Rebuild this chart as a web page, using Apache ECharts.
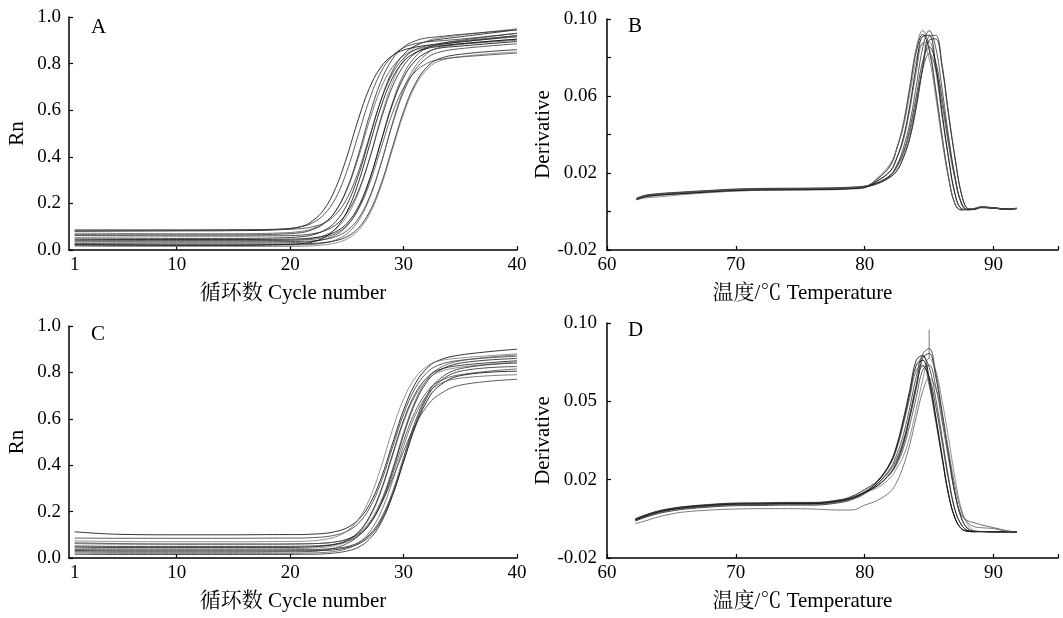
<!DOCTYPE html>
<html>
<head>
<meta charset="utf-8">
<script src="https://cdn.jsdelivr.net/npm/echarts@6/dist/echarts.min.js"></script>
<style>
html,body{margin:0;padding:0;background:#fff;}
#chart{width:1063px;height:618px;}
</style>
</head>
<body>
<div id="chart"></div>
<script>
// ---------------- DATA ----------------
const panelLetters = ['A', 'B', 'C', 'D'];
const xNameCycle = '循环数 Cycle number';
const xNameTemp = '温度/℃ Temperature';
const yNameRn = 'Rn';
const yNameDeriv = 'Derivative';

const cycleLabelTicks = [1, 10, 20, 30, 40];
const cycleTickMarks = [10, 20, 30, 40];
const tempTicks = [60, 70, 80, 90, 95];
const tempLabelTicks = [60, 70, 80, 90];
const derivBTicks = [-0.02, 0, 0.02, 0.04, 0.06, 0.08, 0.10];
const derivBLabelTicks = [-0.02, 0.02, 0.06, 0.10];
const derivDLabelTicks = [-0.02, 0.02, 0.06, 0.10];
const derivDLabels = ['-0.02', '0.02', '0.05', '0.10'];

// amplification curves (panel A), sampled at these cycles
const cycles = [1, 5, 10, 15, 19, 21, 22, 23, 24, 25, 26, 27, 28, 29, 30, 31, 32, 33, 35, 40];
const rnA = [
  [0.080,0.081,0.082,0.083,0.087,0.101,0.126,0.175,0.265,0.400,0.560,0.696,0.785,0.834,0.858,0.870,0.878,0.882,0.893,0.920],
  [0.086,0.085,0.085,0.086,0.090,0.100,0.117,0.153,0.222,0.338,0.493,0.647,0.763,0.832,0.868,0.885,0.893,0.897,0.905,0.930],
  [0.072,0.071,0.070,0.070,0.073,0.080,0.092,0.116,0.166,0.257,0.394,0.556,0.694,0.784,0.834,0.858,0.870,0.876,0.885,0.905],
  [0.052,0.051,0.050,0.050,0.052,0.057,0.065,0.084,0.121,0.194,0.317,0.480,0.643,0.766,0.839,0.876,0.894,0.903,0.915,0.945],
  [0.038,0.039,0.040,0.040,0.041,0.044,0.051,0.063,0.090,0.145,0.243,0.392,0.568,0.718,0.815,0.870,0.896,0.909,0.922,0.950],
  [0.062,0.061,0.060,0.060,0.061,0.064,0.070,0.082,0.107,0.159,0.252,0.392,0.558,0.699,0.791,0.843,0.868,0.880,0.893,0.915],
  [0.028,0.029,0.030,0.030,0.031,0.033,0.037,0.046,0.064,0.102,0.176,0.300,0.465,0.630,0.754,0.828,0.866,0.884,0.897,0.920],
  [0.046,0.045,0.045,0.045,0.046,0.048,0.052,0.060,0.078,0.114,0.185,0.304,0.463,0.621,0.740,0.811,0.847,0.865,0.875,0.895],
  [0.034,0.035,0.035,0.035,0.036,0.037,0.039,0.045,0.057,0.083,0.134,0.228,0.369,0.536,0.678,0.771,0.822,0.847,0.864,0.885],
  [0.021,0.020,0.020,0.020,0.021,0.022,0.024,0.030,0.043,0.070,0.124,0.221,0.368,0.542,0.690,0.786,0.840,0.867,0.882,0.900],
  [0.024,0.025,0.025,0.025,0.025,0.026,0.028,0.032,0.040,0.057,0.093,0.164,0.281,0.438,0.594,0.711,0.782,0.818,0.840,0.860],
  [0.016,0.015,0.015,0.015,0.015,0.016,0.018,0.022,0.030,0.047,0.083,0.154,0.271,0.428,0.584,0.701,0.772,0.808,0.830,0.850],
  [0.066,0.065,0.065,0.065,0.068,0.075,0.088,0.114,0.167,0.263,0.407,0.578,0.723,0.818,0.871,0.897,0.910,0.915,0.925,0.945],
  [0.041,0.040,0.040,0.040,0.041,0.043,0.046,0.054,0.071,0.106,0.173,0.285,0.435,0.585,0.697,0.764,0.799,0.816,0.828,0.845],
  [0.022,0.021,0.020,0.020,0.023,0.027,0.035,0.054,0.091,0.164,0.287,0.450,0.613,0.736,0.809,0.846,0.864,0.873,0.885,0.905],
  [0.085,0.086,0.086,0.087,0.088,0.092,0.100,0.116,0.152,0.220,0.335,0.488,0.641,0.755,0.823,0.859,0.876,0.885,0.900,0.930]
];

// amplification curves (panel C)
const rnC = [
  [0.113,0.102,0.100,0.100,0.101,0.101,0.103,0.106,0.114,0.130,0.165,0.231,0.342,0.490,0.638,0.749,0.815,0.850,0.875,0.900],
  [0.086,0.085,0.085,0.085,0.086,0.086,0.088,0.091,0.099,0.115,0.149,0.215,0.325,0.473,0.620,0.730,0.796,0.830,0.852,0.870],
  [0.062,0.060,0.060,0.060,0.060,0.061,0.062,0.064,0.070,0.081,0.106,0.155,0.245,0.380,0.540,0.675,0.765,0.814,0.850,0.875],
  [0.052,0.050,0.050,0.050,0.050,0.051,0.052,0.054,0.060,0.071,0.096,0.145,0.235,0.370,0.530,0.665,0.755,0.804,0.840,0.860],
  [0.042,0.040,0.040,0.040,0.040,0.041,0.043,0.046,0.054,0.071,0.106,0.173,0.285,0.435,0.585,0.697,0.764,0.799,0.822,0.845],
  [0.036,0.035,0.035,0.035,0.035,0.036,0.036,0.038,0.042,0.049,0.066,0.101,0.169,0.281,0.433,0.584,0.696,0.764,0.816,0.840],
  [0.066,0.062,0.060,0.060,0.060,0.061,0.062,0.064,0.069,0.080,0.102,0.148,0.231,0.356,0.504,0.629,0.712,0.758,0.790,0.815],
  [0.032,0.030,0.030,0.030,0.030,0.031,0.031,0.033,0.036,0.044,0.060,0.094,0.159,0.269,0.415,0.561,0.671,0.736,0.786,0.805],
  [0.027,0.025,0.025,0.025,0.026,0.027,0.029,0.034,0.044,0.062,0.094,0.145,0.230,0.340,0.460,0.570,0.650,0.700,0.745,0.770],
  [0.022,0.020,0.020,0.020,0.020,0.021,0.022,0.024,0.029,0.040,0.064,0.112,0.198,0.328,0.482,0.612,0.698,0.746,0.775,0.790],
  [0.047,0.045,0.045,0.045,0.045,0.046,0.048,0.052,0.059,0.076,0.111,0.179,0.291,0.443,0.594,0.706,0.774,0.809,0.830,0.850],
  [0.074,0.071,0.070,0.070,0.071,0.072,0.074,0.080,0.091,0.116,0.165,0.255,0.390,0.550,0.685,0.775,0.824,0.848,0.862,0.880],
  [0.016,0.015,0.015,0.015,0.015,0.016,0.016,0.018,0.022,0.030,0.046,0.082,0.150,0.265,0.418,0.570,0.685,0.753,0.805,0.825]
];

// melt curves (panel B)
const tempB = [62.3,63,64,65,66,68,70,72,74,76,78,79,80,81,82,82.5,83,83.5,84,84.5,85,85.5,86,86.5,87,87.5,88,88.5,89,90,91,91.8];
const derivB = [
  [0.0065,0.0080,0.0088,0.0093,0.0097,0.0105,0.0112,0.0115,0.0116,0.0117,0.0119,0.0122,0.0128, 0.017,0.024,0.033,0.045,0.064,0.083,0.092,0.084,0.063,0.039,0.018,0.004,0.0008,0.0012,0.0015, 0.0022,0.0018,0.0012,0.0016],
  [0.0070,0.0085,0.0093,0.0098,0.0102,0.0110,0.0117,0.0120,0.0121,0.0122,0.0124,0.0127,0.0132, 0.015,0.019,0.024,0.033,0.046,0.065,0.085,0.094,0.0855,0.064,0.0395,0.0185,0.004,0.0008,0.0012, 0.0025,0.0020,0.0014,0.0017],
  [0.0060,0.0075,0.0083,0.0088,0.0092,0.0100,0.0107,0.0110,0.0111,0.0112,0.0114,0.0117,0.0123, 0.016,0.021,0.028,0.037,0.053,0.0725,0.0875,0.088,0.0735,0.0495,0.0275,0.009,0.0015,0.0009,0.0013, 0.0020,0.0017,0.0011,0.0015],
  [0.0065,0.0080,0.0088,0.0093,0.0097,0.0105,0.0112,0.0115,0.0116,0.0117,0.0119,0.0122,0.0128, 0.0145,0.018,0.0212,0.028,0.038,0.054,0.074,0.089,0.0897,0.075,0.0505,0.028,0.0093,0.0015,0.001, 0.0021,0.0019,0.0013,0.0016],
  [0.0062,0.0070,0.0076,0.0082,0.0088,0.0098,0.0106,0.0110,0.0112,0.0114,0.0117,0.0120,0.0127, 0.0175,0.025,0.033,0.044,0.061,0.079,0.0875,0.0795,0.060,0.037,0.0175,0.004,0.001,0.0012,0.0016, 0.0023,0.0019,0.0013,0.0016],
  [0.0068,0.0083,0.0091,0.0096,0.0100,0.0108,0.0115,0.0118,0.0119,0.0120,0.0122,0.0125,0.0131, 0.015,0.019,0.024,0.031,0.043,0.060,0.078,0.0855,0.078,0.059,0.037,0.018,0.0045,0.001,0.0012, 0.0020,0.0017,0.0012,0.0015],
  [0.0065,0.0080,0.0088,0.0093,0.0097,0.0105,0.0112,0.0115,0.0116,0.0117,0.0119,0.0122,0.0128, 0.015,0.0185,0.023,0.030,0.041,0.057,0.074,0.082,0.0745,0.056,0.035,0.017,0.0045,0.0012,0.0013, 0.0022,0.0018,0.0012,0.0016],
  [0.0063,0.0077,0.0085,0.0090,0.0094,0.0102,0.0109,0.0112,0.0113,0.0114,0.0116,0.0119,0.0125, 0.016,0.0212,0.028,0.0385,0.055,0.0755,0.091,0.0915,0.0765,0.0515,0.0285,0.0095,0.0015,0.001,0.0013, 0.0021,0.0018,0.0012,0.0015],
  [0.0065,0.0080,0.0088,0.0093,0.0097,0.0105,0.0112,0.0115,0.0116,0.0117,0.0119,0.0122,0.0128, 0.0145,0.018,0.0212,0.028,0.0385,0.055,0.0755,0.091,0.0915,0.0765,0.0515,0.0285,0.0095,0.0015,0.001, 0.0024,0.0019,0.0013,0.0017],
  [0.0067,0.0082,0.0090,0.0095,0.0099,0.0107,0.0114,0.0117,0.0118,0.0119,0.0121,0.0124,0.0130, 0.017,0.024,0.033,0.046,0.065,0.085,0.094,0.0855,0.064,0.0395,0.0185,0.004,0.0008,0.0012,0.0015, 0.0022,0.0018,0.0012,0.0016]
];

// melt curves (panel D)
const tempD = [62.2,63,64,65,66,68,70,72,74,76,78,79,80,81,82,82.5,83,83.5,84,84.5,85,85.5,86,86.5,87,87.5,88,88.5,89,90,91,91.8];
const derivD = [
  [-0.0001,0.0019,0.0039,0.0052,0.0061,0.0072,0.0079,0.0080,0.0082,0.0082,0.0096,0.0115,0.0150, 0.0195,0.029,0.038,0.051,0.066,0.081,0.0835,0.072,0.053,0.0325,0.013,0.0005,-0.005,-0.0063,-0.0065, -0.0065,-0.0066,-0.0066,-0.0067],
  [-0.0005,0.0015,0.0035,0.0048,0.0057,0.0068,0.0075,0.0076,0.0078,0.0078,0.0090,0.0105,0.0135, 0.018,0.026,0.033,0.043,0.057,0.0725,0.083,0.0775,0.062,0.042,0.0215,0.005,-0.003,-0.006,-0.0065, -0.0065,-0.0066,-0.0066,-0.0067],
  [-0.0009,0.0011,0.0031,0.0044,0.0053,0.0064,0.0071,0.0072,0.0074,0.0074,0.0087,0.0104,0.0140, 0.019,0.028,0.036,0.048,0.062,0.076,0.0785,0.068,0.050,0.031,0.0125,0.0005,-0.005,-0.0063,-0.0066, -0.0065,-0.0066,-0.0066,-0.0067],
  [-0.0003,0.0017,0.0037,0.0050,0.0059,0.0070,0.0077,0.0078,0.0080,0.0080,0.0092,0.0106,0.0133, 0.017,0.0235,0.029,0.038,0.0515,0.0665,0.082,0.0845,0.073,0.0535,0.033,0.013,0.0005,-0.005,-0.0063, -0.0065,-0.0066,-0.0067,-0.0067],
  [-0.0007,0.0013,0.0033,0.0046,0.0055,0.0066,0.0073,0.0074,0.0076,0.0076,0.0088,0.0103,0.0132, 0.016,0.021,0.026,0.032,0.042,0.056,0.071,0.082,0.076,0.0605,0.0415,0.021,0.005,-0.003,-0.006, -0.0064,-0.0066,-0.0066,-0.0067],
  [-0.0012,0.0008,0.0027,0.0040,0.0049,0.0060,0.0067,0.0068,0.0070,0.0070,0.0082,0.0098,0.0128, 0.018,0.025,0.031,0.040,0.053,0.068,0.078,0.0725,0.058,0.0395,0.020,0.0045,-0.003,-0.006,-0.0065, -0.0065,-0.0066,-0.0066,-0.0067],
  [0.0001,0.0021,0.0041,0.0054,0.0063,0.0074,0.0081,0.0082,0.0084,0.0084,0.0096,0.0110,0.0138, 0.017,0.023,0.028,0.036,0.048,0.062,0.076,0.0785,0.068,0.050,0.031,0.013,0.002,-0.001,-0.002, -0.003,-0.0045,-0.006,-0.0067],
  [-0.0005,0.0015,0.0035,0.0048,0.0057,0.0068,0.0075,0.0076,0.0078,0.0078,0.0090,0.0105,0.0135, 0.019,0.0285,0.037,0.0495,0.064,0.0785,0.081,0.070,0.0515,0.0315,0.0125,0.0005,-0.005,-0.0064,-0.0066, -0.0065,-0.0066,-0.0066,-0.0067],
  [-0.0002,0.0018,0.0038,0.0051,0.0060,0.0071,0.0078,0.0079,0.0081,0.0081,0.0093,0.0108,0.0137, 0.017,0.0235,0.0295,0.039,0.053,0.0685,0.084,0.087,0.075,0.055,0.034,0.0135,0.0005,-0.005,-0.0063, -0.0065,-0.0066,-0.0066,-0.0067],
  [-0.0025,-0.001,0.001,0.0025,0.0035,0.0045,0.005,0.0052,0.0052,0.005,0.0045,0.0045,0.007, 0.0095,0.014,0.019,0.027,0.038,0.052,0.065,0.072,0.067,0.053,0.035,0.017,0.004,-0.002,-0.004, -0.0045,-0.005,-0.0063,-0.0067]
];
const spikeDTemp = [85.0, 85.0];
const spikeDValue = [0.082, 0.0966];

// ---------------- CHART ----------------
const FONT = "'Liberation Serif', 'Times New Roman', 'Noto Serif CJK SC', 'Noto Sans CJK SC', serif";
const lineColors = ['#000000', '#333333', '#5a5a5a', '#111111', '#777777', '#222222', '#444444'];

const grids = [
  {left: 69, top: 17, width: 448, height: 233},
  {left: 607, top: 19, width: 451, height: 231},
  {left: 69, top: 326, width: 448, height: 232},
  {left: 607, top: 323, width: 451, height: 235}
];

function baseAxisStyle() {
  return {
    axisLine: {show: true, onZero: false, lineStyle: {color: '#000', width: 1.5}},
    splitLine: {show: false}
  };
}
function nameStyle(extra) {
  return Object.assign({color: '#000', fontSize: 21, fontFamily: FONT}, extra || {});
}
function labelStyle(extra) {
  return Object.assign({color: '#000', fontSize: 19, fontFamily: FONT}, extra || {});
}

function cycleXAxis(gi) {
  return Object.assign(baseAxisStyle(), {
    gridIndex: gi, type: 'value', min: 0.5, max: 40,
    axisTick: {show: true, inside: true, length: 4, customValues: cycleTickMarks, lineStyle: {color: '#000', width: 1.2}},
    axisLabel: labelStyle({customValues: cycleLabelTicks, margin: 6}),
    name: xNameCycle, nameLocation: 'middle', nameGap: 33, nameTextStyle: nameStyle()
  });
}
function tempXAxis(gi) {
  return Object.assign(baseAxisStyle(), {
    gridIndex: gi, type: 'value', min: 60, max: 95,
    axisTick: {show: true, inside: true, length: 4, customValues: tempTicks, lineStyle: {color: '#000', width: 1.2}},
    axisLabel: labelStyle({customValues: tempLabelTicks, margin: 6}),
    name: xNameTemp, nameLocation: 'middle', nameGap: 33,
    nameTextStyle: nameStyle({padding: [0, 60, 0, 0]})
  });
}
function rnYAxis(gi) {
  return Object.assign(baseAxisStyle(), {
    gridIndex: gi, type: 'value', min: 0, max: 1, interval: 0.2,
    axisTick: {show: true, inside: true, length: 4, lineStyle: {color: '#000', width: 1.2}},
    axisLabel: labelStyle({margin: 8, formatter: v => v.toFixed(1)}),
    name: yNameRn, nameLocation: 'middle', nameGap: 41, nameRotate: 90, nameTextStyle: nameStyle()
  });
}
function derivBYAxis(gi) {
  return Object.assign(baseAxisStyle(), {
    gridIndex: gi, type: 'value', min: -0.02, max: 0.10,
    axisTick: {show: true, inside: true, length: 4, customValues: derivBTicks, lineStyle: {color: '#000', width: 1.2}},
    axisLabel: labelStyle({margin: 10, customValues: derivBLabelTicks, formatter: v => v.toFixed(2)}),
    name: yNameDeriv, nameLocation: 'middle', nameGap: 52, nameRotate: 90, nameTextStyle: nameStyle()
  });
}
function derivDYAxis(gi) {
  return Object.assign(baseAxisStyle(), {
    gridIndex: gi, type: 'value', min: -0.02, max: 0.10,
    axisTick: {show: true, inside: true, length: 4, customValues: derivDLabelTicks, lineStyle: {color: '#000', width: 1.2}},
    axisLabel: labelStyle({margin: 10, customValues: derivDLabelTicks, formatter: v => {
      let best = 0, bd = 1e9;
      derivDLabelTicks.forEach((t, i) => { const d = Math.abs(t - v); if (d < bd) { bd = d; best = i; } });
      return derivDLabels[best];
    }}),
    name: yNameDeriv, nameLocation: 'middle', nameGap: 52, nameRotate: 90, nameTextStyle: nameStyle()
  });
}

const series = [];
function addLines(xs, ysList, gi) {
  ysList.forEach((ys, k) => {
    series.push({
      type: 'line', xAxisIndex: gi, yAxisIndex: gi,
      data: xs.map((x, i) => [x, ys[i]]),
      showSymbol: false, symbol: 'none', smooth: 0.4,
      lineStyle: {color: lineColors[k % lineColors.length], width: 0.8},
      silent: true, animation: false, z: 2
    });
  });
}
addLines(cycles, rnA, 0);
addLines(tempB, derivB, 1);
addLines(cycles, rnC, 2);
addLines(tempD, derivD, 3);
series.push({
  type: 'line', xAxisIndex: 3, yAxisIndex: 3,
  data: spikeDTemp.map((x, i) => [x, spikeDValue[i]]),
  showSymbol: false, symbol: 'none',
  lineStyle: {color: '#555', width: 0.8}, silent: true, animation: false
});

const letterPos = [[91, 17], [628, 16], [91, 324], [628, 320]];
const graphic = panelLetters.map((t, i) => ({
  type: 'text', left: letterPos[i][0], top: letterPos[i][1],
  style: {text: t, fill: '#000', font: "21px " + FONT}
}));

const option = {
  backgroundColor: '#fff',
  animation: false,
  grid: grids,
  xAxis: [cycleXAxis(0), tempXAxis(1), cycleXAxis(2), tempXAxis(3)],
  yAxis: [rnYAxis(0), derivBYAxis(1), rnYAxis(2), derivDYAxis(3)],
  series: series,
  graphic: graphic
};

const chart = echarts.init(document.getElementById('chart'), null, {renderer: 'canvas'});
chart.setOption(option);
</script>
</body>
</html>
